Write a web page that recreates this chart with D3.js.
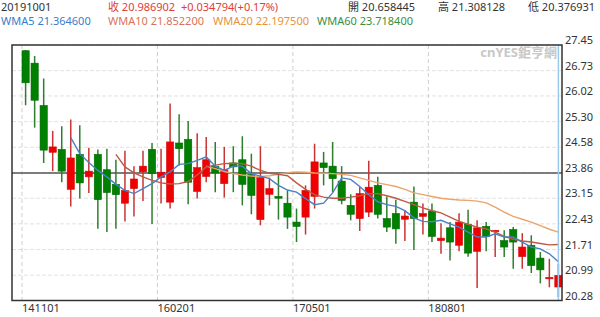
<!DOCTYPE html>
<html>
<head>
<meta charset="utf-8">
<script src="https://cdn.jsdelivr.net/npm/d3@7"></script>
<style>
  body { margin: 0; background: #fff; }
  svg text { font-family: "Noto Sans", "Noto Sans CJK TC", sans-serif; }
</style>
</head>
<body>
<svg id="chart" width="600" height="317"></svg>
<script>
// monthly bars, yymmdd
const dates = [
  "141101","141201","150101","150201","150301","150401","150501","150601","150701","150801","150901","151001","151101","151201",
  "160101","160201","160301","160401","160501","160601","160701","160801","160901","161001","161101","161201",
  "170101","170201","170301","170401","170501","170601","170701","170801","170901","171001","171101","171201",
  "180101","180201","180301","180401","180501","180601","180701","180801","180901","181001","181101","181201",
  "190101","190201","190301","190401","190501","190601","190701","190801","190901","191001"
];
const opens = [27.29,26.94,25.75,24.44,24.52,23.40,24.38,23.75,24.38,23.95,23.54,23.01,23.42,23.89,24.52,23.73,23.04,24.70,24.80,23.34,
  23.76,24.05,23.56,24.14,24.23,23.82,22.55,23.26,23.20,23.01,22.48,22.62,23.20,24.14,24.05,23.63,22.95,22.58,22.76,23.51,
  22.58,22.72,22.56,23.04,22.64,22.79,21.96,22.32,21.83,22.42,21.66,22.36,22.22,21.96,22.27,21.51,21.83,21.47,20.89,20.658445];
const highs = [27.31,27.14,26.51,25.04,25.17,25.36,25.20,24.57,24.52,24.54,24.23,24.48,24.05,24.48,24.70,24.54,25.81,25.51,25.32,24.97,
  24.87,24.73,24.59,24.61,24.89,24.40,24.61,23.73,23.84,23.37,22.86,23.51,24.68,24.45,24.73,24.05,23.26,23.46,24.20,23.75,
  23.20,23.11,22.81,23.48,23.00,23.00,22.45,22.48,22.73,22.83,22.53,22.48,22.25,22.25,22.34,22.17,22.11,21.64,21.45,21.308128];
const lows = [25.76,25.13,24.14,23.91,23.60,22.92,23.14,23.30,22.29,22.20,22.29,22.50,22.64,23.07,22.43,23.00,22.86,24.07,22.98,23.14,
  23.60,23.32,23.17,23.32,22.95,22.70,22.39,22.95,22.55,22.29,21.92,22.13,22.86,23.51,23.32,22.98,22.53,22.23,22.62,22.58,
  22.20,21.87,21.95,21.70,22.13,21.92,21.59,21.40,21.66,21.51,20.63,21.66,21.50,21.50,21.17,21.17,21.05,20.76,20.65,20.376931];
const closes = [26.39,25.90,24.50,24.59,23.91,24.28,23.58,23.91,23.11,23.31,23.25,23.37,23.69,24.05,23.84,23.88,24.73,24.54,23.60,24.01,
  24.23,23.86,23.95,24.03,23.54,23.23,23.73,23.42,23.15,22.62,22.36,23.37,24.17,24.01,23.70,23.09,22.70,23.28,23.46,22.70,
  22.34,22.29,22.65,22.58,22.72,22.08,22.03,21.92,22.48,21.61,22.32,22.08,22.25,21.78,21.92,21.78,21.26,21.14,20.93,20.986902];

const wma5 = [null,null,null,null,null,24.85,24.40,24.15,23.93,23.75,23.54,23.37,23.28,23.42,23.56,23.75,23.89,24.10,24.12,24.21,
  24.31,24.05,23.93,24.05,24.05,23.84,23.77,23.70,23.51,23.38,23.32,23.14,22.97,23.01,23.30,23.72,23.68,23.48,23.25,23.05,
  22.97,22.92,22.80,22.60,22.50,22.49,22.53,22.43,22.34,22.20,22.06,22.06,22.15,22.06,22.06,21.92,21.78,21.73,21.59,21.3646];
const wma10 = [null,null,null,null,null,null,null,null,null,null,24.38,24.03,23.86,23.75,23.65,23.58,23.55,23.56,23.62,23.80,
  24.03,24.08,24.12,24.13,24.12,24.05,23.93,23.85,23.82,23.78,23.58,23.40,23.25,23.18,23.15,23.15,23.18,23.22,23.28,23.28,
  23.22,23.15,23.06,22.97,22.88,22.80,22.74,22.62,22.50,22.42,22.34,22.29,22.20,22.08,22.00,21.95,21.92,21.88,21.84,21.8522];
const wma20 = [null,null,null,null,null,null,null,null,null,null,null,null,null,null,null,null,null,null,null,null,
  24.05,23.98,23.90,23.84,23.80,23.77,23.76,23.78,23.82,23.87,23.89,23.88,23.86,23.85,23.84,23.82,23.79,23.72,23.65,23.58,
  23.53,23.48,23.40,23.30,23.25,23.20,23.15,23.12,23.10,23.09,23.07,23.02,22.90,22.76,22.64,22.56,22.48,22.38,22.28,22.1975];

const yTicks = ["27.45","26.73","26.02","25.30","24.58","23.86","23.15","22.43","21.71","20.99","20.28"];
const xTicks = ["141101","160201","170501","180801"];
const crossValue = "23.86";

(function draw() {
  const svg = d3.select("#chart");
  const pLeft = 12, pRight = 562, pTop = 45, pBottom = 300.5;

  let x = d3.scaleBand().domain(dates).range([22, pRight]).paddingInner(0.2).paddingOuter(0);
  let y = d3.scaleLinear().domain([+yTicks[yTicks.length-1], +yTicks[0]]).range([pBottom, pTop]);
  let cx = d => x(d) + x.bandwidth()/2;

  svg.append("rect").attr("width",600).attr("height",317).attr("fill","#fff");

  // header
  let hdr = svg.append("g").style("font-size","11px");
  hdr.append("text").attr("x",1).attr("y",11).attr("fill","#333").text("20191001");
  hdr.append("text").attr("x",108).attr("y",11).attr("fill","#e0403a").text("收 20.986902");
  hdr.append("text").attr("x",181).attr("y",11).attr("fill","#e0403a").text("+0.034794(+0.17%)");
  hdr.append("text").attr("x",348).attr("y",11).attr("fill","#333").text("開 20.658445");
  hdr.append("text").attr("x",438).attr("y",11).attr("fill","#333").text("高 21.308128");
  hdr.append("text").attr("x",528).attr("y",11).attr("fill","#333").text("低 20.376931");
  hdr.append("text").attr("x",1).attr("y",24.5).attr("fill","#3b7bc8").text("WMA5 21.364600");
  hdr.append("text").attr("x",108).attr("y",24.5).attr("fill","#d9735b").text("WMA10 21.852200");
  hdr.append("text").attr("x",213).attr("y",24.5).attr("fill","#e8923a").text("WMA20 22.197500");
  hdr.append("text").attr("x",317).attr("y",24.5).attr("fill","#3a8f3a").text("WMA60 23.718400");

  // grid
  svg.append("g").selectAll("line").data(yTicks).join("line")
    .attr("x1",pLeft).attr("x2",pRight)
    .attr("y1",d=>y(+d)).attr("y2",d=>y(+d))
    .attr("stroke","#e2e2e2").attr("stroke-dasharray","4,2");
  svg.append("g").selectAll("line").data(xTicks).join("line")
    .attr("x1",d=>x(d)).attr("x2",d=>x(d))
    .attr("y1",pTop).attr("y2",pBottom)
    .attr("stroke","#cfcfcf").attr("stroke-dasharray","4,3");

  // watermark
  svg.append("text").attr("x",557).attr("y",57).attr("text-anchor","end")
    .attr("fill","#c8c8c8").style("font-size","13px").style("font-weight","bold")
    .text("cnYES鉅亨網");

  // crosshair
  svg.append("line").attr("x1",pLeft).attr("x2",pRight)
    .attr("y1",y(+crossValue)).attr("y2",y(+crossValue))
    .attr("stroke","#555").attr("stroke-width",1.5);

  // candles
  let bars = dates.map((d,i)=>({date:d,o:opens[i],h:highs[i],l:lows[i],c:closes[i]}));
  let cg = svg.append("g").selectAll("g").data(bars).join("g");
  cg.append("line")
    .attr("x1",d=>cx(d.date)).attr("x2",d=>cx(d.date))
    .attr("y1",d=>y(d.h)).attr("y2",d=>y(d.l))
    .attr("stroke",d=>d.c>=d.o ? "#c83434" : "#2f7d2f").attr("stroke-width",1.5);
  cg.append("rect")
    .attr("x",d=>x(d.date)).attr("width",x.bandwidth())
    .attr("y",d=>y(Math.max(d.o,d.c)))
    .attr("height",d=>Math.max(1.5, Math.abs(y(d.o)-y(d.c))))
    .attr("fill",d=>d.c>=d.o ? "#f00000" : "#008000")
    .attr("stroke",d=>d.c>=d.o ? "#d01010" : "#006a00").attr("stroke-width",0.6);

  // WMA lines
  let line = d3.line().defined(v=>v!=null).x((v,i)=>cx(dates[i])).y(v=>y(v));
  [[wma20,"#eba46a"],[wma10,"#bd5a44"],[wma5,"#4a80c4"]].forEach(([s,col])=>{
    svg.append("path").datum(s).attr("d",line).attr("fill","none")
      .attr("stroke",col).attr("stroke-width",1.4);
  });

  // vertical crosshair on last bar
  let lastX = cx(dates[dates.length-1]);
  svg.append("line").attr("x1",lastX).attr("x2",lastX)
    .attr("y1",pTop).attr("y2",pBottom).attr("stroke","#9cc8ea").attr("stroke-width",1.5);

  // frame
  svg.append("rect").attr("x",pLeft).attr("y",pTop).attr("width",pRight-pLeft).attr("height",pBottom-pTop)
    .attr("fill","none").attr("stroke","#333").attr("stroke-width",1.5);

  // axis labels
  svg.append("g").style("font-size","11px").selectAll("text").data(yTicks).join("text")
    .attr("x",565).attr("y",d=>y(+d)-1).attr("fill","#333").text(d=>d);
  svg.append("g").style("font-size","11px").selectAll("text").data(xTicks).join("text")
    .attr("x",d=>x(d)).attr("y",312).attr("fill","#333").text(d=>d);
})();
</script>
</body>
</html>
